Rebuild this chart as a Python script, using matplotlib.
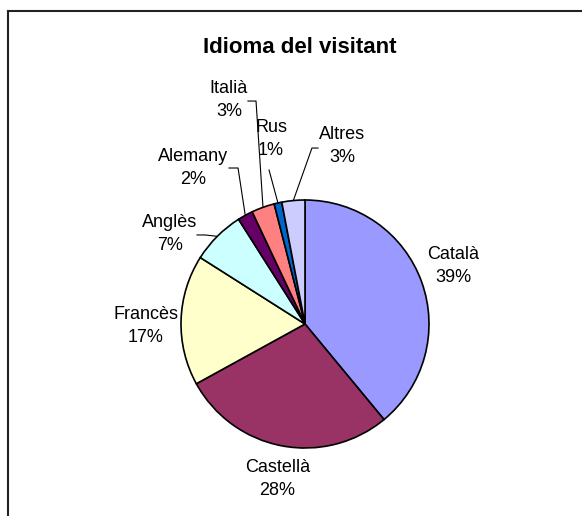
import numpy as np
import matplotlib
matplotlib.use("Agg")
import matplotlib.pyplot as plt
from matplotlib.lines import Line2D

plt.rcParams['font.family'] = ['Liberation Sans', 'DejaVu Sans']

# data
idiomes = ["Català", "Castellà", "Francès", "Anglès", "Alemany", "Italià", "Rus", "Altres"]
percent = [39, 28, 17, 7, 2, 3, 1, 3]
colors = ["#9999FF", "#993366", "#FFFFCC", "#CCFFFF", "#660066", "#FF8080", "#0066CC", "#CCCCFF"]

# label centres (data units, pie radius = 1)
label_pos = [(1.194, 0.468), (-0.222, -1.25), (-1.282, -0.016), (-1.089, 0.726),
             (-0.903, 1.258), (-0.613, 1.806), (-0.274, 1.492), (0.298, 1.435)]
# leader line start points for the small slices (None = no line)
leaders = [None, None, None,
           [(-0.871, 0.718), (-0.806, 0.718)],
           [(-0.613, 1.258), (-0.540, 1.258)],
           [(-0.460, 1.798), (-0.395, 1.798)],
           [(-0.290, 1.242)],
           [(0.105, 1.419), (0.056, 1.419)]]

fig = plt.figure(figsize=(5.82, 5.16), dpi=100)
ax = fig.add_axes([0, 0, 1, 1])

wedges, _ = ax.pie(percent, colors=colors, startangle=90, counterclock=False,
                   radius=1, center=(0, 0),
                   wedgeprops=dict(edgecolor="black", linewidth=1.2))
ax.set_xlim(-305 / 124, 277 / 124)
ax.set_ylim(-192 / 124, 324 / 124)
ax.set_aspect("auto")
ax.axis("off")

for w, name, p, (lx, ly), ld in zip(wedges, idiomes, percent, label_pos, leaders):
    ax.text(lx, ly, f"{name}\n{p}%", ha="center", va="center",
            multialignment="center", fontsize=13, linespacing=1.45)
    if ld is not None:
        mid = np.deg2rad((w.theta1 + w.theta2) / 2)
        pts = ld + [(np.cos(mid), np.sin(mid))]
        xs, ys = zip(*pts)
        ax.plot(xs, ys, color="black", linewidth=0.8)

fig.text(300 / 582, 1 - 53 / 516, "Idioma del visitant", ha="center",
         va="baseline", fontsize=16, fontweight="bold")

# chart frame (top and left edges)
top = 1 - 11 / 516
left = 8 / 582
fig.add_artist(Line2D([left, 1], [top, top], color="#222222", linewidth=1.5,
                      transform=fig.transFigure))
fig.add_artist(Line2D([left, left], [0, top], color="#222222", linewidth=1.5,
                      transform=fig.transFigure))

fig.savefig("out.png", dpi=100)
